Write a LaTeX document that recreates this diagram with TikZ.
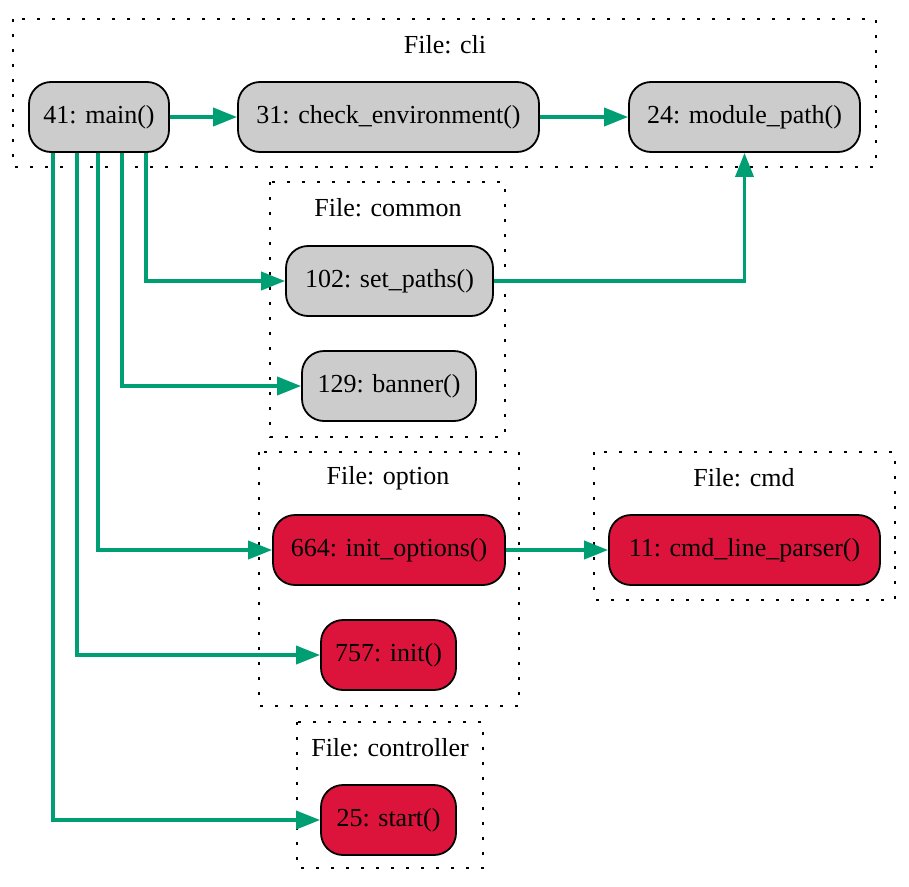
\documentclass[tikz,border=0pt]{standalone}
\usepackage{fontspec}
\setmainfont{Liberation Serif}
\usetikzlibrary{arrows.meta}
\definecolor{edgegreen}{RGB}{0,158,115}
\definecolor{nodegray}{RGB}{204,204,204}
\definecolor{nodered}{RGB}{220,20,60}
\begin{document}
\begin{tikzpicture}[x=1pt,y=-1pt,
  fn/.style={draw=black, line width=1.8pt, rounded corners=22pt, minimum height=70pt,
    inner sep=0pt, font=\fontsize{26}{30}\selectfont, anchor=center},
  grayfn/.style={fn, fill=nodegray},
  redfn/.style={fn, fill=nodered},
  clusterbox/.style={draw=black, line width=2.6pt, dash pattern=on 2.6pt off 12.4pt},
  ctitle/.style={font=\fontsize{26}{30}\selectfont, anchor=center, inner sep=0pt},
  edge/.style={draw=edgegreen, line width=3.6pt, -{Triangle[length=24pt,width=18pt]}}]
\useasboundingbox (0,0) rectangle (909,886);
\fill[white] (0,0) rectangle (909,886);

% clusters
\draw[clusterbox] (13,19) rectangle (876,167);
\node[ctitle] (tcli) at (445,45) {File: cli};
\draw[clusterbox] (270,182) rectangle (505,437);
\node[ctitle] (tcommon) at (388,208) {File: common};
\draw[clusterbox] (259,452) rectangle (519,706);
\node[ctitle] (toption) at (388,478) {File: option};
\draw[clusterbox] (594,452) rectangle (895,600);
\node[ctitle] (tcmd) at (744,478) {File: cmd};
\draw[clusterbox] (297,722) rectangle (483,868);
\node[ctitle] (tcontroller) at (390,748) {File: controller};

% nodes
\node[grayfn, minimum width=140pt] (main) at (99,117) {41: main()};
\node[grayfn, minimum width=301pt] (check) at (388.5,117) {31: check\_environment()};
\node[grayfn, minimum width=231pt] (module) at (744.5,117) {24: module\_path()};
\node[grayfn, minimum width=207pt] (setpaths) at (389.5,281) {102: set\_paths()};
\node[grayfn, minimum width=174pt] (banner) at (389,386) {129: banner()};
\node[redfn, minimum width=232pt] (initopt) at (389,550) {664: init\_options()};
\node[redfn, minimum width=271pt] (cmdparser) at (744.5,550) {11: cmd\_line\_parser()};
\node[redfn, minimum width=135pt] (init) at (388.5,655) {757: init()};
\node[redfn, minimum width=135pt] (start) at (388.5,820) {25: start()};

% edges
\draw[edge] (main.east) -- (check.west);
\draw[edge] (check.east) -- (module.west);
\draw[edge] ([xshift=47pt]main.south) |- (setpaths.west);
\draw[edge] ([xshift=23pt]main.south) |- (banner.west);
\draw[edge] ([xshift=-1pt]main.south) |- (initopt.west);
\draw[edge] ([xshift=-22pt]main.south) |- (init.west);
\draw[edge] ([xshift=-46pt]main.south) |- (start.west);
\draw[edge] (setpaths.east) -| (module.south);
\draw[edge] (initopt.east) -- (cmdparser.west);
\end{tikzpicture}
\end{document}
